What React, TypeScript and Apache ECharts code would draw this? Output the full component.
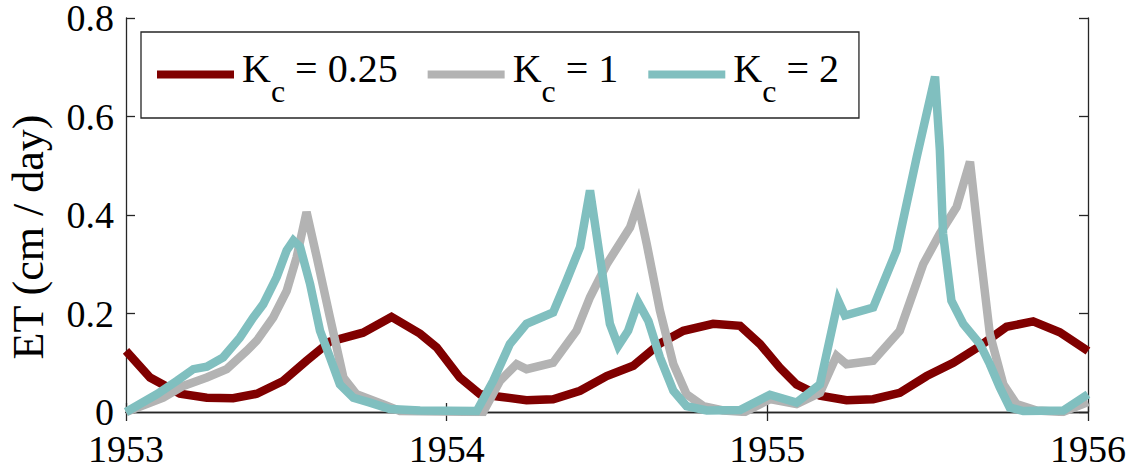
import React, { useEffect, useRef } from "react";
import * as echarts from "echarts";

const xTicks = [1953, 1954, 1955, 1956];
const yTicks = [0, 0.2, 0.4, 0.6, 0.8];
const kcValues = ["0.25", "1", "2"];
const seriesNames = ["Kc = 0.25", "Kc = 1", "Kc = 2"];
const seriesColors = ["#800000", "#b3b3b3", "#80bfbf"];
const yAxisTitle = "ET (cm / day)";

const etKc025: [number, number][] = [
  [1953.0, 0.124], [1953.075, 0.07], [1953.168, 0.037], [1953.252, 0.029], [1953.334, 0.028],
  [1953.408, 0.037], [1953.49, 0.063], [1953.563, 0.104], [1953.636, 0.143], [1953.739, 0.161],
  [1953.828, 0.193], [1953.917, 0.159], [1953.969, 0.131], [1954.041, 0.07], [1954.104, 0.036],
  [1954.166, 0.031], [1954.249, 0.024], [1954.332, 0.026], [1954.416, 0.043], [1954.499, 0.073],
  [1954.582, 0.094], [1954.665, 0.139], [1954.738, 0.165], [1954.831, 0.179], [1954.915, 0.175],
  [1954.977, 0.138], [1955.039, 0.09], [1955.091, 0.056], [1955.164, 0.033], [1955.247, 0.024],
  [1955.33, 0.026], [1955.413, 0.039], [1955.497, 0.073], [1955.58, 0.1], [1955.663, 0.134],
  [1955.746, 0.173], [1955.829, 0.184], [1955.912, 0.162], [1956.0, 0.124],
];

const etKc1: [number, number][] = [
  [1953.0, 0.0], [1953.116, 0.029], [1953.179, 0.053], [1953.252, 0.07], [1953.314, 0.087],
  [1953.376, 0.124], [1953.408, 0.145], [1953.459, 0.192], [1953.501, 0.246], [1953.532, 0.314],
  [1953.563, 0.406], [1953.595, 0.314], [1953.636, 0.192], [1953.678, 0.07], [1953.719, 0.036],
  [1953.801, 0.016], [1953.854, 0.002], [1954.114, 0.0], [1954.166, 0.063], [1954.218, 0.097],
  [1954.249, 0.087], [1954.332, 0.1], [1954.405, 0.165], [1954.447, 0.233], [1954.499, 0.3],
  [1954.572, 0.375], [1954.597, 0.423], [1954.624, 0.341], [1954.665, 0.206], [1954.707, 0.097],
  [1954.748, 0.036], [1954.8, 0.012], [1954.862, 0.003], [1954.93, 0.0], [1955.008, 0.026],
  [1955.091, 0.016], [1955.164, 0.039], [1955.216, 0.114], [1955.247, 0.097], [1955.33, 0.104],
  [1955.413, 0.165], [1955.486, 0.3], [1955.538, 0.362], [1955.59, 0.416], [1955.632, 0.508],
  [1955.663, 0.328], [1955.694, 0.158], [1955.736, 0.056], [1955.777, 0.016], [1955.84, 0.003],
  [1955.922, 0.0], [1956.0, 0.02],
];

const etKc2: [number, number][] = [
  [1953.0, 0.0], [1953.096, 0.036], [1953.158, 0.063], [1953.21, 0.087], [1953.252, 0.092],
  [1953.303, 0.111], [1953.355, 0.151], [1953.397, 0.192], [1953.428, 0.219], [1953.47, 0.274],
  [1953.501, 0.328], [1953.522, 0.348], [1953.543, 0.335], [1953.574, 0.26], [1953.605, 0.165],
  [1953.636, 0.111], [1953.667, 0.056], [1953.709, 0.029], [1953.761, 0.019], [1953.823, 0.006],
  [1953.917, 0.003], [1954.094, 0.002], [1954.145, 0.063], [1954.197, 0.138], [1954.249, 0.179],
  [1954.332, 0.202], [1954.374, 0.267], [1954.416, 0.335], [1954.447, 0.45], [1954.478, 0.314],
  [1954.509, 0.179], [1954.535, 0.134], [1954.566, 0.165], [1954.597, 0.223], [1954.629, 0.185],
  [1954.665, 0.111], [1954.707, 0.043], [1954.748, 0.012], [1954.811, 0.003], [1954.915, 0.004],
  [1955.008, 0.035], [1955.091, 0.019], [1955.164, 0.056], [1955.221, 0.226], [1955.242, 0.196],
  [1955.33, 0.212], [1955.403, 0.328], [1955.466, 0.518], [1955.523, 0.681], [1955.538, 0.532],
  [1955.548, 0.362], [1955.574, 0.226], [1955.611, 0.179], [1955.663, 0.138], [1955.694, 0.097],
  [1955.725, 0.05], [1955.756, 0.009], [1955.798, 0.002], [1955.923, 0.003], [1956.0, 0.036],
];

const seriesData = [etKc025, etKc1, etKc2];

const FONT = "'Liberation Serif', 'Times New Roman', serif";
const AXIS_COLOR = "#262626";

export default function App() {
  const ref = useRef<HTMLDivElement>(null);

  useEffect(() => {
    if (!ref.current) return;
    const chart = echarts.init(ref.current, undefined, { renderer: "svg" });
    const axisLine = { show: true, lineStyle: { color: AXIS_COLOR, width: 1.3 } };
    const axisTick = { show: true, inside: true, length: 9, lineStyle: { color: AXIS_COLOR, width: 1.3 } };
    const labelStyle = { fontFamily: FONT, fontSize: 38, color: "#000" };
    const LH = 65;

    chart.setOption({
      animation: false,
      backgroundColor: "#fff",
      grid: { left: 126, right: 44, top: 18, bottom: 57, containLabel: false, outerBoundsMode: "none" },
      xAxis: [
        {
          type: "value",
          min: xTicks[0],
          max: xTicks[xTicks.length - 1],
          interval: 1,
          position: "bottom",
          axisLine,
          axisTick,
          splitLine: { show: false },
          axisLabel: { ...labelStyle, margin: 22, lineHeight: 30, formatter: (v: number) => String(v) },
        },
        {
          type: "value",
          min: xTicks[0],
          max: xTicks[xTicks.length - 1],
          interval: 1,
          position: "top",
          axisLine,
          axisTick,
          splitLine: { show: false },
          axisLabel: { show: false },
        },
      ],
      yAxis: [
        {
          type: "value",
          min: yTicks[0],
          max: yTicks[yTicks.length - 1],
          interval: 0.2,
          position: "left",
          axisLine,
          axisTick,
          splitLine: { show: false },
          axisLabel: {
            ...labelStyle,
            margin: 12,
            lineHeight: 24,
            padding: [9, 0, 0, 0],
            formatter: (v: number) => (v === 0 ? "0" : v.toFixed(1)),
          },
          name: yAxisTitle,
          nameLocation: "middle",
          nameGap: 76,
          nameTextStyle: { fontFamily: FONT, fontSize: 44, color: "#000", padding: [0, 44, 0, 0] },
        },
        {
          type: "value",
          min: yTicks[0],
          max: yTicks[yTicks.length - 1],
          interval: 0.2,
          position: "right",
          axisLine,
          axisTick,
          splitLine: { show: false },
          axisLabel: { show: false },
        },
      ],
      legend: {
        left: 141,
        top: 32,
        orient: "horizontal",
        icon: "rect",
        itemWidth: 77,
        itemHeight: 8,
        itemGap: 30,
        padding: [10, 20, 11, 16],
        backgroundColor: "#fff",
        borderColor: AXIS_COLOR,
        borderWidth: 1.3,
        borderRadius: 0,
        data: seriesNames,
        formatter: (name: string) => {
          const i = seriesNames.indexOf(name);
          return `{k|K}{s|c}{t| = ${kcValues[i]}}`;
        },
        textStyle: {
          fontFamily: FONT,
          fontSize: 40,
          color: "#000",
          rich: {
            k: { fontFamily: FONT, fontSize: 40, color: "#000", verticalAlign: "top", lineHeight: LH, padding: [6.5, 0, 0, 3] },
            s: { fontFamily: FONT, fontSize: 32, color: "#000", verticalAlign: "top", lineHeight: LH, padding: [33, 0, 0, 0] },
            t: { fontFamily: FONT, fontSize: 40, color: "#000", verticalAlign: "top", lineHeight: LH, padding: [6.5, 0, 0, 0] },
          },
        },
      },
      series: seriesData.map((d, i) => ({
        name: seriesNames[i],
        type: "line",
        data: d,
        showSymbol: false,
        symbol: "none",
        smooth: false,
        color: seriesColors[i],
        itemStyle: { color: seriesColors[i] },
        lineStyle: { color: seriesColors[i], width: 8.5, cap: "butt", join: "miter" },
        z: 2 + i,
      })),
    });

    return () => chart.dispose();
  }, []);

  return (
    <div
      ref={ref}
      style={{ position: "absolute", left: 0, top: 0, width: 1132, height: 469, background: "#fff" }}
    />
  );
}
